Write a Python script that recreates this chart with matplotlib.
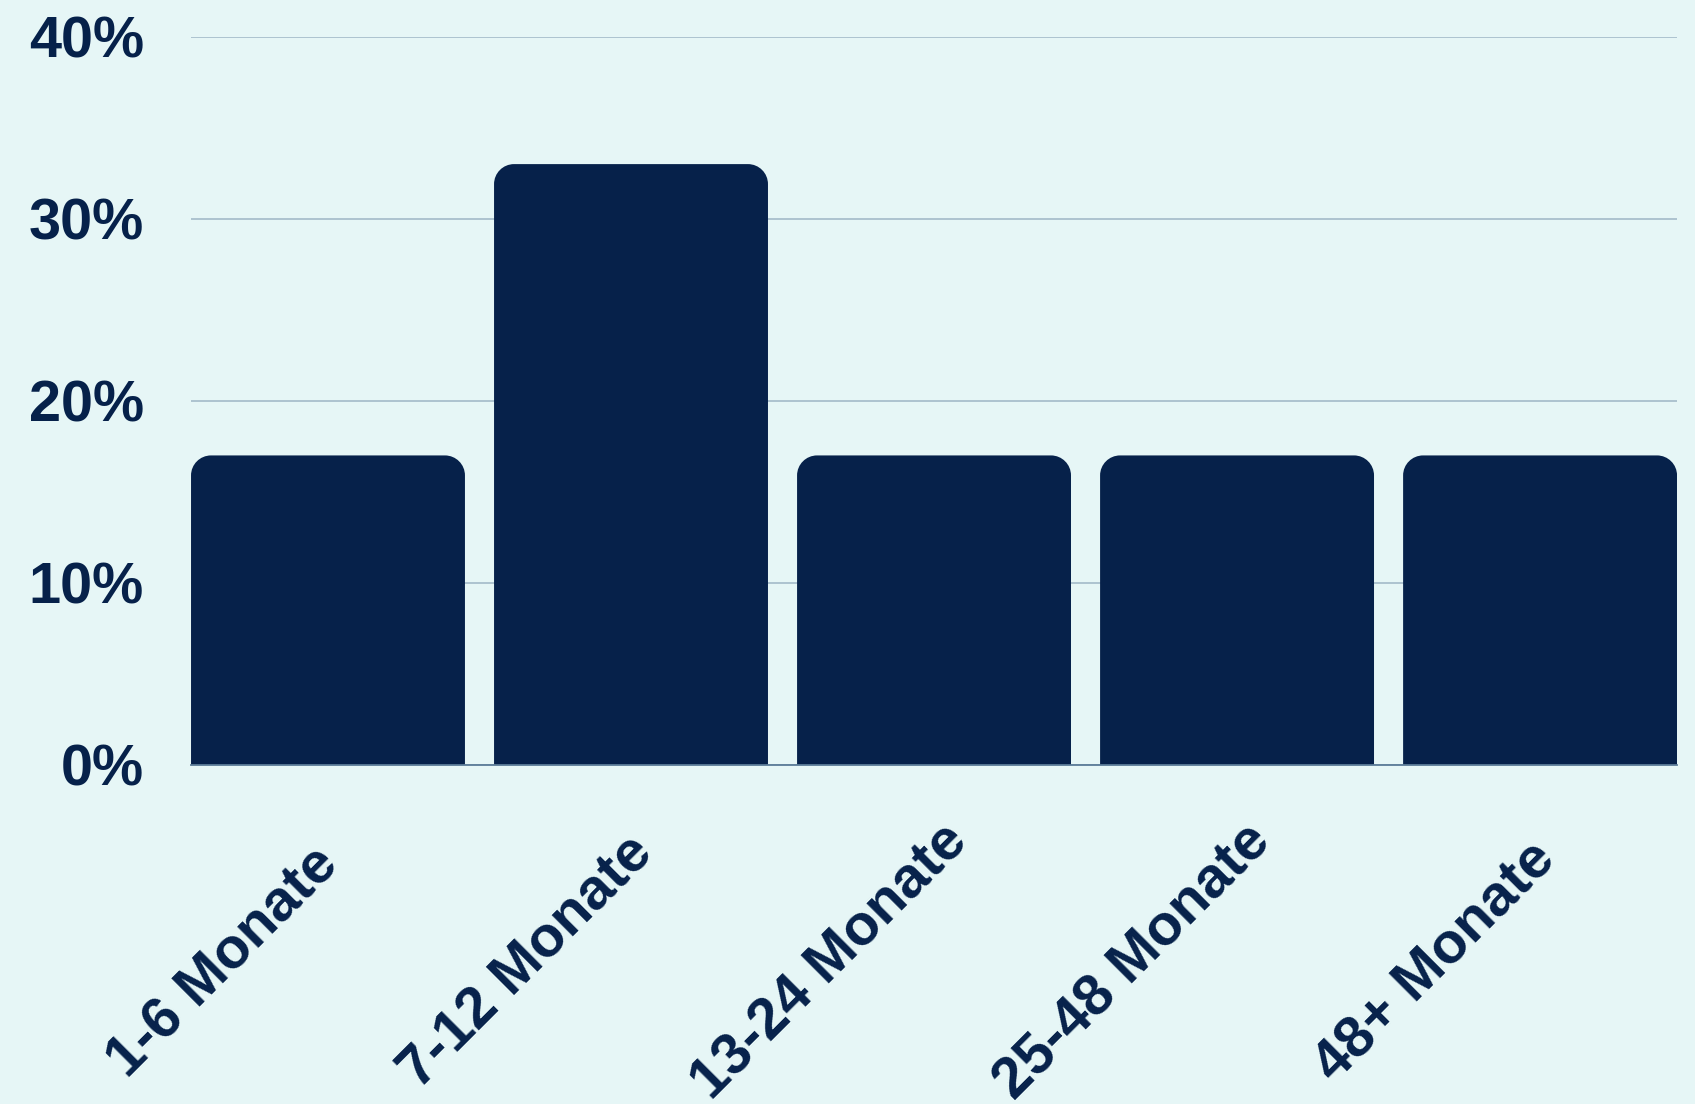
import matplotlib.pyplot as plt
from matplotlib.patches import PathPatch
from matplotlib.path import Path
from matplotlib.transforms import ScaledTranslation

categories = ["1-6 Monate", "7-12 Monate", "13-24 Monate", "25-48 Monate", "48+ Monate"]
values = [17, 33, 17, 17, 17]
yticks = [0, 10, 20, 30, 40]
ytick_labels = ["0%", "10%", "20%", "30%", "40%"]

bg = "#E6F6F6"
bar_color = "#06214A"
grid_color = "#A9BFCC"
base_color = "#5B7C98"

plt.rcParams['font.family'] = ['Liberation Sans', 'DejaVu Sans']

fig = plt.figure(figsize=(16.95, 11.04), dpi=100, facecolor=bg)
ax = fig.add_axes([0.1127, 0.3071, 0.8767, 0.6597], facecolor=bg)

width = 0.904
ax.set_xlim(-width / 2, len(categories) - 1 + width / 2)
ax.set_ylim(0, 40)

# corner radius in pixels, turned into data units on each axis
bbox = ax.get_window_extent()
px_x = bbox.width / (ax.get_xlim()[1] - ax.get_xlim()[0])
px_y = bbox.height / (ax.get_ylim()[1] - ax.get_ylim()[0])
rx = 20 / px_x
ry = 20 / px_y
k = 0.5523


def rounded_bar(x0, w, h):
    x1 = x0 + w
    verts = [(x0, 0), (x0, h - ry),
             (x0, h - ry + k * ry), (x0 + rx - k * rx, h), (x0 + rx, h),
             (x1 - rx, h),
             (x1 - rx + k * rx, h), (x1, h - ry + k * ry), (x1, h - ry),
             (x1, 0), (x0, 0)]
    codes = [Path.MOVETO, Path.LINETO,
             Path.CURVE4, Path.CURVE4, Path.CURVE4,
             Path.LINETO,
             Path.CURVE4, Path.CURVE4, Path.CURVE4,
             Path.LINETO, Path.CLOSEPOLY]
    return Path(verts, codes)


for i, v in enumerate(values):
    ax.add_patch(PathPatch(rounded_bar(i - width / 2, width, v),
                           facecolor=bar_color, edgecolor="none", zorder=3))

ax.set_yticks(yticks)
ax.set_yticklabels(ytick_labels, fontsize=41.5, fontweight="bold", color=bar_color)
ax.set_xticks(range(len(categories)))
ax.set_xticklabels(categories, fontsize=41.5, fontweight="bold", color=bar_color,
                   rotation=45, ha="center", va="center", rotation_mode="anchor")
ax.tick_params(axis="y", length=0, pad=34)
ax.tick_params(axis="x", length=0, pad=142)
# labels are centred on a point left of the tick
shift = ScaledTranslation(-75 / 72, 0, fig.dpi_scale_trans)
for lab in ax.get_xticklabels():
    lab.set_transform(lab.get_transform() + shift)

ax.grid(axis="y", color=grid_color, linewidth=1.3, zorder=0)
ax.grid(axis="x", visible=False)
for s in ["top", "right", "left"]:
    ax.spines[s].set_visible(False)
ax.spines["bottom"].set_color(base_color)
ax.spines["bottom"].set_linewidth(1.3)
ax.spines["bottom"].set_zorder(4)
ax.set_axisbelow(True)

fig.savefig("out.png", dpi=100, facecolor=bg)
